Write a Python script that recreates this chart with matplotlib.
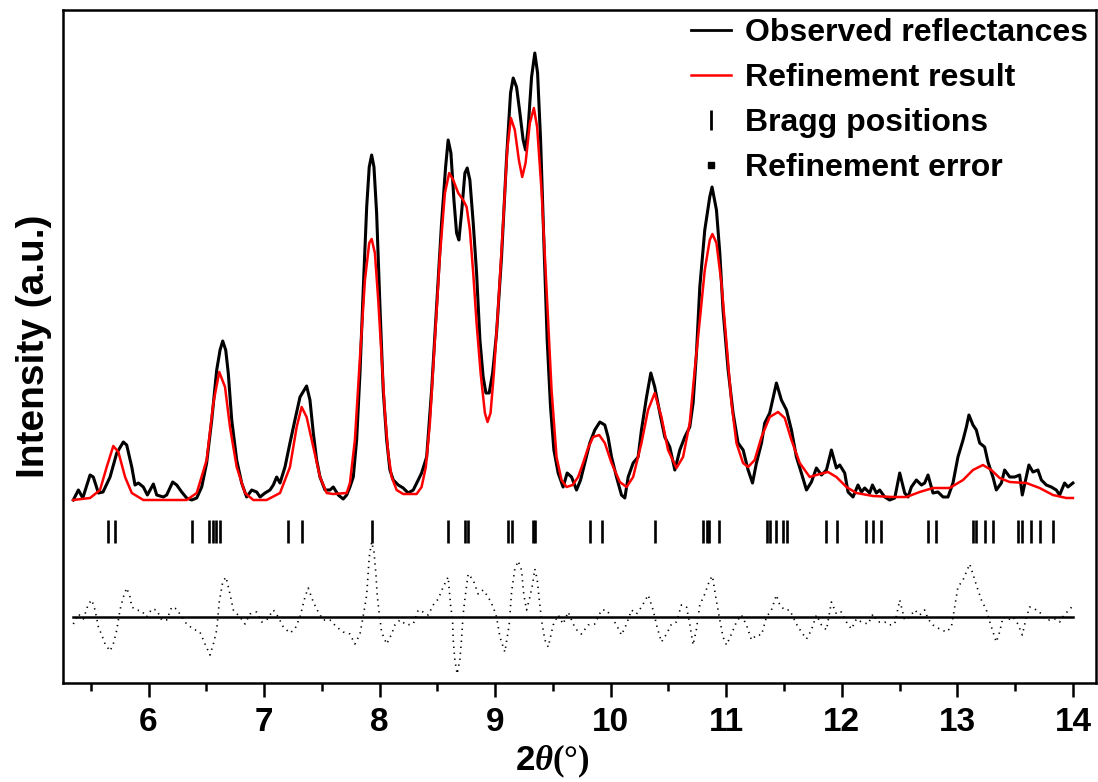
import matplotlib
matplotlib.use("Agg")
import matplotlib.pyplot as plt
from matplotlib.lines import Line2D
from matplotlib.ticker import MultipleLocator

plt.rcParams["font.family"] = ["Liberation Sans", "DejaVu Sans"]
plt.rcParams["font.weight"] = "bold"
plt.rcParams["mathtext.fontset"] = "custom"
plt.rcParams["mathtext.bf"] = "Liberation Sans:bold"
plt.rcParams["mathtext.it"] = "Liberation Serif:italic"
plt.rcParams["mathtext.rm"] = "Liberation Serif"

# observed pattern, 2theta (deg) and intensity (a.u.)
obs_2theta = [
    5.349, 5.393, 5.431, 5.494, 5.522, 5.566, 5.606, 5.667, 5.725, 5.782,
    5.811, 5.855, 5.883, 5.912, 5.955, 5.990, 6.042, 6.071, 6.128, 6.157,
    6.209, 6.244, 6.287, 6.330, 6.374, 6.417, 6.460, 6.503, 6.547, 6.590,
    6.619, 6.642, 6.668, 6.690, 6.720, 6.763, 6.806, 6.849, 6.893, 6.936,
    6.965, 7.008, 7.051, 7.080, 7.109, 7.138, 7.181, 7.224, 7.267, 7.311,
    7.368, 7.397, 7.426, 7.455, 7.484, 7.527, 7.570, 7.599, 7.642, 7.685,
    7.715, 7.743, 7.772, 7.801, 7.830, 7.858, 7.888, 7.910, 7.931, 7.951,
    7.974, 8.003, 8.031, 8.061, 8.089, 8.118, 8.161, 8.204, 8.247, 8.291,
    8.334, 8.363, 8.407, 8.450, 8.493, 8.536, 8.571, 8.593, 8.617, 8.643,
    8.666, 8.686, 8.709, 8.738, 8.758, 8.781, 8.810, 8.839, 8.868, 8.896,
    8.920, 8.948, 8.978, 9.012, 9.055, 9.099, 9.133, 9.156, 9.185, 9.214,
    9.242, 9.263, 9.286, 9.315, 9.343, 9.367, 9.393, 9.421, 9.450, 9.479,
    9.508, 9.545, 9.588, 9.623, 9.661, 9.704, 9.739, 9.776, 9.819, 9.862,
    9.906, 9.949, 9.977, 10.007, 10.050, 10.093, 10.122, 10.151, 10.194, 10.237,
    10.266, 10.310, 10.347, 10.381, 10.425, 10.468, 10.511, 10.555, 10.598, 10.641,
    10.684, 10.713, 10.742, 10.771, 10.814, 10.857, 10.877, 10.915, 10.944, 10.972,
    11.016, 11.059, 11.102, 11.146, 11.189, 11.227, 11.261, 11.305, 11.333, 11.376,
    11.434, 11.477, 11.521, 11.564, 11.607, 11.650, 11.694, 11.737, 11.780, 11.824,
    11.867, 11.910, 11.953, 11.982, 12.025, 12.054, 12.097, 12.140, 12.170, 12.198,
    12.241, 12.265, 12.299, 12.328, 12.371, 12.414, 12.458, 12.501, 12.544, 12.573,
    12.602, 12.645, 12.689, 12.717, 12.746, 12.789, 12.832, 12.876, 12.919, 12.962,
    13.005, 13.049, 13.078, 13.100, 13.135, 13.164, 13.193, 13.236, 13.265, 13.308,
    13.337, 13.381, 13.409, 13.453, 13.496, 13.539, 13.562, 13.619, 13.654, 13.697,
    13.727, 13.770, 13.813, 13.856, 13.885, 13.928, 13.957, 14.000,
]
obs_int = [
    -3, 7, -1, 22, 20, 4, 5, 20, 44, 55,
    52, 30, 12, 14, 10, 2, 13, 2, 0, 2,
    15, 12, 5, -1, -3, -1, 10, 34, 77, 127,
    147, 156, 147, 124, 77, 37, 14, 0, 7, 5,
    0, 4, 7, 12, 20, 14, 30, 54, 77, 100,
    111, 97, 64, 37, 20, 7, 7, 10, 2, -2,
    2, 10, 20, 57, 124, 207, 290, 330, 342, 330,
    284, 190, 107, 57, 27, 17, 12, 9, 4, 7,
    17, 24, 40, 107, 190, 274, 330, 357, 344, 297,
    264, 257, 284, 324, 329, 317, 274, 224, 157, 120,
    104, 104, 124, 164, 240, 340, 404, 419, 410, 384,
    357, 347, 370, 420, 444, 424, 357, 257, 157, 90,
    47, 24, 10, 24, 20, 7, 17, 34, 54, 67,
    75, 72, 60, 40, 20, 2, -1, 20, 34, 40,
    67, 100, 124, 110, 84, 60, 50, 27, 47, 60,
    70, 94, 144, 210, 267, 300, 310, 287, 244, 187,
    127, 84, 54, 47, 27, 14, 34, 54, 74, 84,
    114, 97, 87, 67, 40, 24, 7, 15, 29, 22,
    27, 47, 29, 32, 24, 5, 0, 12, 5, 9,
    4, 12, 4, 7, 0, -3, -1, 24, 4, 0,
    10, 17, 12, 14, 22, 4, 5, 0, 0, 14,
    40, 57, 70, 82, 72, 67, 54, 50, 35, 20,
    7, 14, 27, 20, 20, 22, 2, 32, 25, 27,
    17, 12, 10, 7, 2, 14, 10, 14,
]

# refined (calculated) pattern
calc_2theta = [
    5.347, 5.494, 5.580, 5.638, 5.695, 5.739, 5.797, 5.855, 5.955, 6.330,
    6.417, 6.503, 6.561, 6.612, 6.662, 6.705, 6.763, 6.835, 6.907, 7.022,
    7.138, 7.224, 7.282, 7.325, 7.368, 7.426, 7.484, 7.542, 7.596, 7.715,
    7.743, 7.786, 7.830, 7.873, 7.910, 7.931, 7.959, 7.988, 8.017, 8.046,
    8.074, 8.104, 8.147, 8.204, 8.320, 8.363, 8.400, 8.435, 8.478, 8.521,
    8.565, 8.602, 8.637, 8.680, 8.723, 8.753, 8.781, 8.810, 8.839, 8.874,
    8.911, 8.934, 8.960, 8.989, 9.026, 9.069, 9.104, 9.136, 9.170, 9.205,
    9.234, 9.263, 9.300, 9.335, 9.363, 9.401, 9.445, 9.488, 9.531, 9.574,
    9.618, 9.670, 9.718, 9.761, 9.804, 9.848, 9.900, 9.949, 10.007, 10.079,
    10.137, 10.194, 10.266, 10.323, 10.381, 10.439, 10.496, 10.569, 10.626, 10.684,
    10.727, 10.771, 10.814, 10.857, 10.880, 10.915, 10.958, 11.002, 11.045, 11.088,
    11.145, 11.189, 11.246, 11.305, 11.376, 11.448, 11.506, 11.564, 11.636, 11.722,
    11.809, 11.881, 11.953, 12.040, 12.126, 12.270, 12.443, 12.559, 12.674, 12.789,
    12.933, 13.049, 13.135, 13.221, 13.294, 13.366, 13.453, 13.597, 13.712, 13.827,
    13.943, 14.000,
]
calc_int = [
    -3, -1, 7, 30, 51, 45, 20, 4, -3, -3,
    4, 37, 94, 125, 110, 70, 30, 4, -3, -3,
    4, 30, 70, 90, 80, 50, 20, 4, 3, 4,
    14, 57, 140, 217, 254, 258, 244, 197, 140, 84,
    44, 20, 7, 3, 3, 10, 30, 74, 157, 240,
    304, 324, 317, 304, 297, 290, 267, 224, 174, 124,
    84, 75, 84, 124, 190, 274, 347, 379, 367, 337,
    320, 334, 374, 389, 370, 307, 207, 107, 40, 17,
    10, 12, 20, 34, 49, 60, 62, 54, 34, 15,
    10, 20, 54, 87, 104, 80, 47, 29, 40, 74,
    127, 177, 227, 257, 263, 254, 214, 154, 94, 54,
    34, 30, 37, 60, 80, 85, 79, 57, 34, 20,
    23, 25, 20, 10, 4, 1, 0, 0, 5, 9,
    9, 17, 27, 32, 27, 19, 15, 14, 9, 2,
    -1, -1,
]

# Bragg reflection positions
bragg_2theta = [
    5.652, 5.710, 6.374, 6.526, 6.554, 6.584, 6.619, 7.209, 7.325, 7.931,
    8.593, 8.738, 8.766, 9.112, 9.142, 9.329, 9.343, 9.819, 9.926, 10.381,
    10.799, 10.829, 10.851, 10.938, 11.353, 11.382, 11.434, 11.491, 11.526, 11.861,
    11.958, 12.207, 12.270, 12.343, 12.746, 12.818, 13.135, 13.164, 13.236, 13.308,
    13.524, 13.562, 13.640, 13.712, 13.827,
]

# difference between observed and refined pattern
err_2theta = [
    5.349, 5.393, 5.436, 5.479, 5.509, 5.537, 5.566, 5.595, 5.624, 5.667,
    5.695, 5.725, 5.753, 5.782, 5.811, 5.840, 5.855, 5.898, 5.941, 5.984,
    6.028, 6.071, 6.114, 6.157, 6.201, 6.244, 6.287, 6.330, 6.387, 6.445,
    6.489, 6.532, 6.561, 6.590, 6.612, 6.642, 6.670, 6.705, 6.734, 6.791,
    6.835, 6.878, 6.936, 6.979, 7.022, 7.080, 7.123, 7.166, 7.224, 7.267,
    7.311, 7.354, 7.382, 7.426, 7.469, 7.512, 7.570, 7.628, 7.685, 7.743,
    7.786, 7.830, 7.864, 7.888, 7.910, 7.931, 7.951, 7.968, 7.979, 7.997,
    8.017, 8.061, 8.104, 8.132, 8.176, 8.233, 8.291, 8.334, 8.377, 8.420,
    8.464, 8.507, 8.550, 8.593, 8.614, 8.631, 8.637, 8.651, 8.671, 8.695,
    8.709, 8.723, 8.738, 8.766, 8.810, 8.853, 8.896, 8.940, 8.983, 9.012,
    9.041, 9.084, 9.121, 9.142, 9.170, 9.199, 9.228, 9.248, 9.272, 9.300,
    9.323, 9.343, 9.363, 9.381, 9.401, 9.430, 9.459, 9.502, 9.545, 9.588,
    9.632, 9.675, 9.718, 9.747, 9.804, 9.862, 9.920, 9.964, 10.007, 10.050,
    10.093, 10.137, 10.180, 10.223, 10.266, 10.324, 10.367, 10.401, 10.439, 10.483,
    10.526, 10.569, 10.612, 10.656, 10.684, 10.713, 10.742, 10.771, 10.814, 10.857,
    10.880, 10.909, 10.944, 10.972, 11.002, 11.045, 11.088, 11.131, 11.175, 11.218,
    11.261, 11.305, 11.348, 11.391, 11.434, 11.463, 11.506, 11.549, 11.607, 11.650,
    11.694, 11.737, 11.780, 11.824, 11.867, 11.910, 11.953, 11.997, 12.040, 12.083,
    12.126, 12.170, 12.227, 12.270, 12.313, 12.371, 12.414, 12.458, 12.501, 12.544,
    12.587, 12.631, 12.674, 12.717, 12.746, 12.789, 12.847, 12.905, 12.948, 12.977,
    13.005, 13.049, 13.078, 13.107, 13.135, 13.164, 13.208, 13.251, 13.286, 13.314,
    13.337, 13.366, 13.395, 13.438, 13.481, 13.524, 13.562, 13.591, 13.625, 13.669,
    13.712, 13.755, 13.798, 13.842, 13.885, 13.928, 13.971, 14.000,
]
err_int = [
    -7, 3, -2, 13, 17, 7, -10, -18, -27, -34,
    -27, -13, 7, 20, 29, 20, 10, 7, 6, 0,
    8, 7, -3, -3, 10, 8, 0, -7, -12, -15,
    -27, -38, -27, -13, 15, 35, 40, 23, 7, 0,
    -7, 3, 5, -5, -3, 7, 0, -10, -16, -12,
    0, 20, 29, 15, 5, -3, -3, -10, -15, -17,
    -27, -17, 5, 22, 60, 75, 65, 43, 22, 3,
    -15, -27, -17, -8, -3, -8, -7, 7, 5, 2,
    12, 18, 30, 40, 12, -3, -23, -43, -57, -42,
    -22, 3, 18, 43, 37, 23, 27, 20, 10, 0,
    -20, -35, -8, 25, 48, 56, 47, 22, 7, 20,
    32, 48, 38, 18, -3, -23, -30, -8, 2, -7,
    5, -7, -15, -17, -8, -7, 7, 7, 0, -8,
    -18, -7, 7, 3, 10, 22, 7, -10, -25, -17,
    -7, -5, 12, 10, -7, -28, -12, 12, 23, 37,
    41, 20, -3, -20, -28, -17, -5, 2, -8, -23,
    -18, -18, 0, 7, 22, 12, 7, 7, -7, -15,
    -22, -13, 2, -8, -13, 15, 3, 5, -5, -12,
    -2, -5, -7, 3, -5, -5, -8, -7, 17, -3,
    0, 7, 2, 7, -2, -8, -12, -15, -10, 10,
    30, 37, 45, 53, 43, 32, 17, 7, -7, -17,
    -25, -15, 0, -3, 0, -7, -18, -3, 10, 8,
    5, -2, -3, -2, -5, 3, 7, 12,
]

ERR_OFFSET = -120
BRAGG_LO, BRAGG_HI = -46, -23

fig = plt.figure(figsize=(10.98, 7.82), dpi=100)
ax = fig.add_axes([0.0574, 0.1266, 0.9408, 0.8606])

ax.plot(obs_2theta, obs_int, color="black", lw=2.2, solid_joinstyle="round")
ax.plot(calc_2theta, calc_int, color="red", lw=1.8)
ax.vlines(bragg_2theta, BRAGG_LO, BRAGG_HI, color="black", lw=1.9)
ax.plot([obs_2theta[0], obs_2theta[-1]], [ERR_OFFSET, ERR_OFFSET],
        color="black", lw=1.8)
ax.plot(err_2theta, [e + ERR_OFFSET for e in err_int], color="black",
        lw=1.2, linestyle=(0, (0.8, 2.8)))

ax.set_xlim(5.26, 14.2)
ax.set_ylim(-186, 487)

ax.xaxis.set_major_locator(MultipleLocator(1))
ax.xaxis.set_minor_locator(MultipleLocator(0.5))
ax.set_yticks([])
ax.tick_params(axis="x", which="major", direction="out", length=10,
               width=1.8, labelsize=24, pad=7)
ax.tick_params(axis="x", which="minor", direction="out", length=6, width=1.8)
for lbl in ax.get_xticklabels():
    lbl.set_fontweight("bold")
for sp in ax.spines.values():
    sp.set_linewidth(1.8)

ax.set_ylabel("Intensity (a.u.)", fontsize=28, fontweight="bold", labelpad=8)
ax.set_xlabel(r"$\mathbf{2}\mathit{\theta}\mathrm{(°)}$", fontsize=25)
ax.xaxis.set_label_coords(0.474, -0.088)

handles = [
    Line2D([], [], color="black", lw=2.0),
    Line2D([], [], color="red", lw=1.8),
    Line2D([], [], color="black", marker="|", linestyle="none",
           markersize=15, markeredgewidth=2.0),
    Line2D([], [], color="black", marker="s", linestyle="none",
           markersize=5),
]
labels = ["Observed reflectances", "Refinement result", "Bragg positions",
          "Refinement error"]
ax.legend(handles, labels, loc="upper right", frameon=False,
          prop={"size": 23, "weight": "bold"}, handlelength=1.25,
          handletextpad=0.45, labelspacing=0.47, borderaxespad=0.15,
          borderpad=0.1)

fig.savefig("out.png", dpi=100)
